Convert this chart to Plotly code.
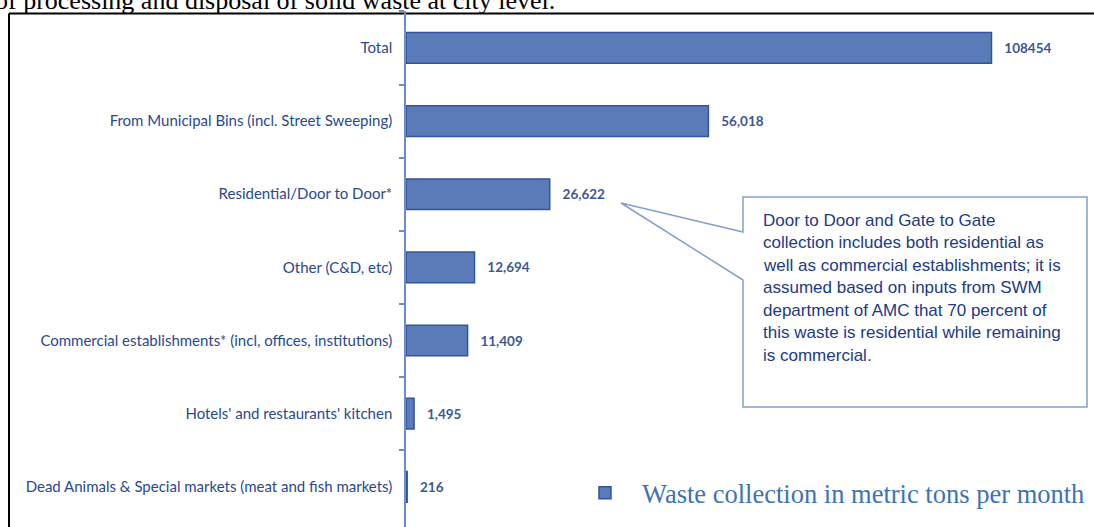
import plotly.graph_objects as go

W, H = 1094, 527

categories = [
    "Total",
    "From Municipal Bins (incl. Street Sweeping)",
    "Residential/Door to Door*",
    "Other (C&D, etc)",
    "Commercial establishments* (incl, offices, institutions)",
    "Hotels' and restaurants' kitchen",
    "Dead Animals & Special markets (meat and fish markets)",
]
values = [108454, 56018, 26622, 12694, 11409, 1495, 216]
value_labels = ["108454", "56,018", "26,622", "12,694", "11,409", "1,495", "216"]
series_name = "Waste collection in metric tons per month"

note_lines = [
    "Door to Door and Gate to Gate",
    "collection includes both residential as",
    "well as commercial establishments; it is",
    "assumed based on inputs from SWM",
    "department of AMC that 70 percent of",
    "this waste is residential while remaining",
    "is commercial.",
]
header_text = "of processing and disposal of solid waste at city level."


def px(x):
    return x / W


def py(y):
    return 1 - y / H


BAR_FILL = "rgb(90,122,184)"
BAR_LINE = "rgb(48,84,160)"
LABEL_BLUE = "rgb(40,72,146)"

fig = go.Figure()
fig.add_trace(go.Bar(
    y=categories,
    x=values,
    orientation="h",
    width=0.42,
    marker=dict(color=BAR_FILL, line=dict(color=BAR_LINE, width=1.5)),
    text=value_labels,
    texttemplate="\u00a0\u00a0\u00a0%{text}",
    textposition="outside",
    cliponaxis=False,
    textfont=dict(family="Lato", size=13.5, color="rgb(60,86,150)", weight="bold"),
    name=series_name,
    showlegend=True,
))

shapes = [
    # document frame
    dict(type="line", xref="paper", yref="paper", x0=px(9), x1=px(9), y0=py(13.5), y1=py(530),
         line=dict(color="black", width=2), layer="below"),
    dict(type="line", xref="paper", yref="paper", x0=px(9), x1=px(1100), y0=py(13.5), y1=py(13.5),
         line=dict(color="black", width=2), layer="below"),
]

# callout box with pointer
pts = [(743, 197), (1087, 197), (1087, 407), (743, 407), (743, 280), (621, 203), (743, 232)]
path = "M " + " L ".join(f"{px(x):.5f},{py(y):.5f}" for x, y in pts) + " Z"
shapes.append(dict(type="path", xref="paper", yref="paper", path=path,
                   line=dict(color="rgb(130,158,210)", width=1.5), fillcolor="white", layer="above"))

annotations = [
    dict(text=header_text, xref="paper", yref="paper", x=px(-7), y=py(17), xanchor="left", yanchor="bottom",
         showarrow=False, font=dict(family="Liberation Serif", size=26, color="black")),
]
for i, line in enumerate(note_lines):
    annotations.append(dict(text=line, xref="paper", yref="paper", x=px(761), y=py(220 + i * 22.5),
                            xanchor="left", yanchor="middle", showarrow=False,
                            font=dict(family="Liberation Sans", size=17, color="rgb(32,58,136)")))

fig.update_layout(
    width=W, height=H,
    margin=dict(l=0, r=0, t=0, b=0),
    paper_bgcolor="white", plot_bgcolor="white",
    xaxis=dict(domain=[px(406), px(1090)], range=[0, 126700], visible=False, showgrid=False, zeroline=False),
    yaxis=dict(domain=[0, py(11.4)], range=[6.55, -0.5], type="category",
               categoryorder="array", categoryarray=categories,
               showline=True, linecolor="rgb(110,140,205)", linewidth=1.5,
               ticks="outside", tickson="boundaries", ticklen=5, tickcolor="rgb(110,140,205)", tickwidth=1.5,
               showgrid=False, ticklabelstandoff=9,
               tickfont=dict(family="Lato", size=15, color=LABEL_BLUE)),
    showlegend=True,
    legend=dict(x=px(568), y=py(493), xanchor="left", yanchor="middle", bgcolor="rgba(0,0,0,0)",
                font=dict(family="Liberation Serif", size=26.5, color="rgb(58,115,182)"),
                itemwidth=64),
    shapes=shapes,
    annotations=annotations,
)

fig.write_html("out.html")
